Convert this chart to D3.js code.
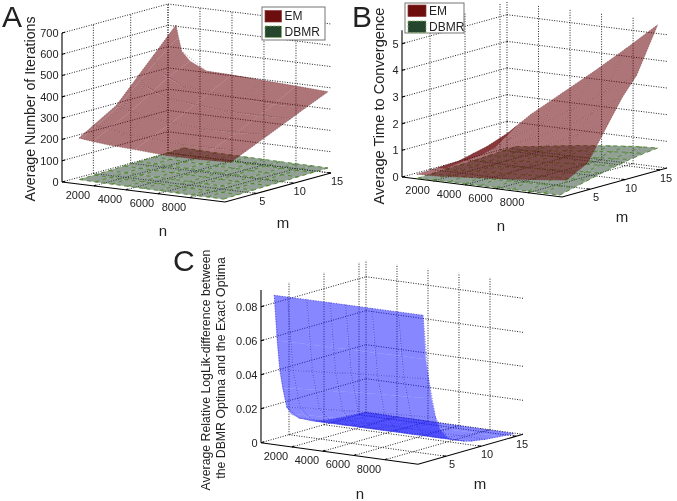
<!DOCTYPE html>
<html><head><meta charset="utf-8">
<script src="https://cdn.jsdelivr.net/npm/d3@7"></script>
<style>html,body{margin:0;padding:0;background:#fff}svg{display:block}text{font-family:"Liberation Sans",Arial,sans-serif;fill:#222}</style>
</head><body><svg id="c" width="677" height="501"><defs><filter id="soft" x="0" y="0" width="100%" height="100%"><feGaussianBlur stdDeviation="0.35"/></filter></defs></svg>
<script>
const nTicks=[2000,4000,6000,8000];
const mTicks=[5,10,15];
const zTicksA=[0,100,200,300,400,500,600,700];
const zTicksB=[0,1,2,3,4,5];
const zTicksC=[0,0.02,0.04,0.06,0.08];

const dbmrN=[1000,2000,3000,4000,5000,6000,7000,8000,9000,10000];
const dbmrM=[1,3,5,7,9,11,13,15];
const dbmrA=[
[19,17,16,15,14,13,12,11,11,10],
[21,19,18,17,16,15,14,13,13,12],
[23,21,20,19,18,17,16,15,15,14],
[25,23,22,21,20,19,18,17,16,16],
[27,25,23,22,21,20,20,19,18,17],
[29,27,25,24,23,22,21,20,19,19],
[31,28,26,25,24,23,22,22,21,20],
[33,30,28,27,26,25,24,23,23,22]];
const dbmrB=[
[.03,.03,.04,.04,.05,.05,.05,.06,.06,.06],
[.05,.07,.09,.11,.13,.14,.16,.17,.18,.19],
[.07,.10,.14,.17,.20,.23,.26,.28,.30,.32],
[.09,.14,.19,.24,.28,.32,.36,.39,.42,.45],
[.11,.17,.23,.30,.35,.40,.45,.49,.53,.56],
[.14,.21,.28,.35,.42,.48,.53,.59,.63,.67],
[.17,.24,.32,.40,.48,.55,.61,.67,.72,.75],
[.20,.27,.36,.45,.53,.60,.67,.73,.78,.81]];

const emNA=[500,650,850,1375,2400,4000,6000,8000,10000];
const emMA=[2,4,7,10,12,15];
const emA=[
[200,198,196,191,184,178,168,168,174],
[242,240,238,230,220,210,200,200,206],
[305,300,295,283,268,258,245,245,253],
[418,400,375,350,325,310,300,295,301],
[493,465,425,395,362,350,340,330,333],
[606,550,487,445,407,404,396,388,380]];
const emNB=[500,1000,2000,4000,6000,8000,10000];
const emMB=[2,5,8,10,12,15];
const emB=[
[.07,.08,.10,.20,.30,.42,.55],
[.09,.10,.18,.35,.55,.75,.97],
[.13,.20,.35,.70,1.10,1.65,2.26],
[.26,.25,.55,1.05,1.60,2.30,3.10],
[.38,.37,.80,1.50,2.20,3.00,3.76],
[.67,.95,1.50,2.45,3.40,4.40,5.43]];

const llN=[400,1250,2500,4000,5000,6700,8400,10000];
const llM=[2,2.4,2.8,3.2,3.8,4.4,5.5,7,8,9,11,13,15];
const llLeft =[.086,.059,.041,.030,.018,.0135,.0098,.0065,.0050,.0040,.0030,.0024,.0020];
const llRight=[.0863,.060,.048,.036,.024,.0165,.0100,.0068,.0052,.0040,.0028,.0020,.0014];
const llZ=llM.map((_,i)=>llN.map((_,j)=>llLeft[i]+(llRight[i]-llLeft[i])*j/(llN.length-1)));

const legendNames=["EM","DBMR"];
const colors={em:"#6e0a0f",dbmr:"#28442e",dash:"#4c8428",ll:"#1e1eff",swatchDash:"#7fb060"};

const svg=d3.select("#c");
const root=svg.append("g").attr("filter","url(#soft)");
root.append("rect").attr("width",677).attr("height",501).attr("fill","#fff");

function panel(c){
  const g=root.append("g");
  const sn=d3.scaleLinear().domain([0,c.nMax]).range([0,1]);
  const sm=d3.scaleLinear().domain([c.mMin,c.mMax]).range([0,1]);
  const sz=d3.scaleLinear().domain([0,c.zRef]).range([0,c.zRefPx]);
  const P=(n,m,z)=>[c.o[0]+sn(n)*c.nv[0]+sm(m)*c.mv[0], c.o[1]+sn(n)*c.nv[1]+sm(m)*c.mv[1]-sz(z)];
  const line=d3.line();
  const grid=(a,b)=>g.append("path").attr("d",line([a,b])).attr("fill","none").attr("stroke","#222").attr("stroke-width",1).attr("stroke-dasharray","1 1.5");
  c.zTicks.forEach(z=>{
    grid(P(0,c.mMin,z),P(0,c.mMax,z));
    grid(P(0,c.mMax,z),P(c.nMax,c.mMax,z));
  });
  mTicks.forEach(m=>{
    grid(P(0,m,0),P(0,m,c.zTop));
    grid(P(0,m,0),P(c.nMax,m,0));
  });
  nTicks.forEach(n=>{
    grid(P(n,c.mMax,0),P(n,c.mMax,c.zTop));
    grid(P(n,c.mMin,0),P(n,c.mMax,0));
  });
  grid(P(0,c.mMax,0),P(0,c.mMax,c.zTop));
  const ax=(a,b)=>g.append("path").attr("d",line([a,b])).attr("fill","none").attr("stroke","#000").attr("stroke-width",1.1);
  ax(P(0,c.mMin,0),P(0,c.mMin,c.zTop));
  ax(P(0,c.mMin,0),P(c.nMax,c.mMin,0));
  ax(P(c.nMax,c.mMin,0),P(c.nMax,c.mMax,0));
  c.zTicks.forEach(z=>{
    const p=P(0,c.mMin,z);
    ax(p,[p[0]+3,p[1]-.8]);
    g.append("text").attr("x",p[0]-3.5).attr("y",p[1]+3.9).attr("text-anchor","end").attr("font-size",c.fs).text(c.zFmt(z));
  });
  nTicks.forEach((n,i)=>{
    const p=P(n,c.mMin,0);
    ax(p,[p[0]+2,p[1]-.9]);
    g.append("text").attr("x",p[0]+c.nLab[0]).attr("y",p[1]+c.nLab[1]).attr("text-anchor","middle").attr("font-size",c.fs).text(n);
  });
  mTicks.forEach(m=>{
    const p=P(c.nMax,m,0);
    ax(p,[p[0]-3,p[1]-.4]);
    g.append("text").attr("x",p[0]+c.mLab[0]).attr("y",p[1]+c.mLab[1]).attr("text-anchor","middle").attr("font-size",c.fs).text(m);
  });

  function surf(ns,ms,Z,fill,op,i0,i1,j0,j1){
    const s=g.append("g").attr("opacity",op);
    for(let i=i0;i<i1;i++)for(let j=j0;j<j1;j++){
      s.append("path").attr("d",line([P(ns[j],ms[i],Z[i][j]),P(ns[j+1],ms[i],Z[i][j+1]),P(ns[j+1],ms[i+1],Z[i+1][j+1]),P(ns[j],ms[i+1],Z[i+1][j])])+"Z")
       .attr("fill",fill).attr("stroke",fill).attr("stroke-width",.3);
    }
  }
  function mesh(ns,ms,Z,stroke,dash,w,op){
    const m=g.append("g").attr("fill","none").attr("stroke",stroke).attr("stroke-dasharray",dash).attr("stroke-width",w).attr("opacity",op);
    ms.forEach((mm,i)=>m.append("path").attr("d",line(ns.map((n,j)=>P(n,mm,Z[i][j])))));
    ns.forEach((n,j)=>m.append("path").attr("d",line(ms.map((mm,i)=>P(n,mm,Z[i][j])))));
  }
  c.draw({surf,mesh});

  const t=(x,y,s,fs,rot,anchor)=>{
    const e=g.append("text").attr("font-size",fs).attr("text-anchor",anchor||"middle").text(s);
    if(rot)e.attr("transform",`translate(${x},${y}) rotate(-90)`);else e.attr("x",x).attr("y",y);
  };
  t(c.letter[0],c.letter[1],c.letter[2],30,false,"start");
  c.titles.forEach(a=>t(a[0],a[1],a[2],a[3],a[4]));
  if(c.legend){
    const L=c.legend;
    g.append("rect").attr("x",L.x).attr("y",L.y).attr("width",L.w).attr("height",L.h).attr("fill","#fff").attr("stroke","#666").attr("stroke-width",.9);
    legendNames.forEach((nm,i)=>{
      const y=L.y+L.sy[i];
      g.append("rect").attr("x",L.x+3).attr("y",y).attr("width",L.sw).attr("height",11.5)
        .attr("fill",i?colors.dbmr:colors.em).attr("stroke",i?colors.swatchDash:"#8a3a3a").attr("stroke-width",.7).attr("stroke-dasharray",i?"3 1":null);
      g.append("text").attr("x",L.x+3+L.sw+3).attr("y",y+9.7).attr("font-size",12).text(nm);
    });
  }
}

panel({o:[62,182],nv:[163,20],mv:[106,-29],nMax:10190,mMin:.8,mMax:15,zRef:700,zRefPx:149,zTop:700,zTicks:zTicksA,zFmt:d=>d,fs:11,
  nLab:[-16,13],mLab:[6,12],letter:[2,27,"A"],
  titles:[[163,236,"n",15],[283,228,"m",15],[35,109,"Average Number of Iterations",14.2,true]],
  legend:{x:262,y:7,w:63,h:33,sw:16.5,sy:[3.5,19]},
  draw(d){
    d.surf(dbmrN,dbmrM,dbmrA,colors.dbmr,.5,0,dbmrM.length-1,0,dbmrN.length-1);
    d.mesh(dbmrN,dbmrM,dbmrA,colors.dash,"4 3.5",.9,1);
    d.surf(emNA,emMA,emA,colors.em,.56,0,emMA.length-1,0,emNA.length-1);
    d.mesh(emNA.filter((_,j)=>j%2==0),emMA,emA.map(r=>r.filter((_,j)=>j%2==0)),"#4a1515","1 1.6",.8,.5);
  }});
panel({o:[402,177],nv:[160,20],mv:[105,-29],nMax:10150,mMin:1,mMax:16,zRef:5,zRefPx:133.3,zTop:5.5,zTicks:zTicksB,zFmt:d=>d,fs:11,
  nLab:[-16,13],mLab:[6,12],letter:[352,27,"B"],
  titles:[[501,231,"n",15],[622,222,"m",15],[384,106,"Average Time to Convergence",14.6,true]],
  legend:{x:405,y:3,w:59,h:30,sw:18,sy:[2,18]},
  draw(d){
    d.surf(dbmrN,dbmrM,dbmrB,colors.dbmr,.5,0,dbmrM.length-1,0,dbmrN.length-1);
    d.mesh(dbmrN,dbmrM,dbmrB,colors.dash,"4 3.5",.9,1);
    d.surf(emNB,emMB,emB,colors.em,.56,0,emMB.length-1,0,emNB.length-1);
    d.surf(emNB,emMB,emB,colors.em,.56,1,emMB.length-1,0,1);
    d.mesh(emNB,emMB,emB,"#4a1515","1 1.6",.8,.5);
  }});
panel({o:[261,442.7],nv:[157,21.6],mv:[105,-30],nMax:10130,mMin:1,mMax:16,zRef:.08,zRefPx:136,zTop:.0898,zTicks:zTicksC,zFmt:d=>d,fs:11,
  nLab:[-16,13],mLab:[6,12],letter:[173,271,"C"],
  titles:[[360,499,"n",15],[480,489,"m",15],[210,370,"Average Relative LogLik-difference  between",12.3,true],[225,368,"the DBMR Optima and the Exact Optima",12.3,true]],
  draw(d){
    const k=llM.indexOf(8);
    d.surf(llN,llM,llZ,colors.ll,.53,k,llM.length-1,0,llN.length-1);
    d.surf(llN,llM,llZ,colors.ll,.53,0,k,0,llN.length-1);
    d.mesh(llN,llM.filter((_,i)=>i%2==0),llZ.filter((_,i)=>i%2==0),"#2a2ac8","1 1.6",.9,.75);
  }});
</script></body></html>
